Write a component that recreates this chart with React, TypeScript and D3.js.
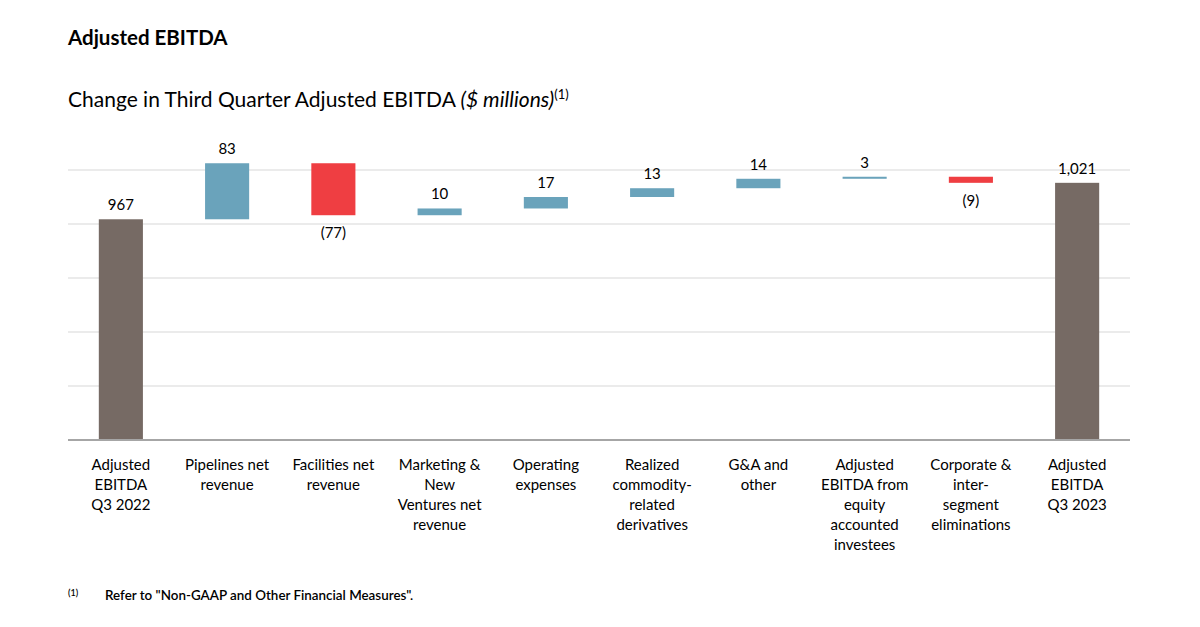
import React, { useEffect, useRef } from "react";
import * as d3 from "d3";

const categories = [
  ["Adjusted", "EBITDA", "Q3 2022"],
  ["Pipelines net", "revenue"],
  ["Facilities net", "revenue"],
  ["Marketing &", "New", "Ventures net", "revenue"],
  ["Operating", "expenses"],
  ["Realized", "commodity-", "related", "derivatives"],
  ["G&A and", "other"],
  ["Adjusted", "EBITDA from", "equity", "accounted", "investees"],
  ["Corporate &", "inter-", "segment", "eliminations"],
  ["Adjusted", "EBITDA", "Q3 2023"],
];
const values = [967, 83, -77, 10, 17, 13, 14, 3, -9, 1021];
const kinds = ["total", "delta", "delta", "delta", "delta", "delta", "delta", "delta", "delta", "total"];
const gridTicks = [640, 720, 800, 880, 960, 1040];

const COLORS = { total: "#766a64", up: "#6aa3bb", down: "#ef3e42" };
const FONT = "Lato, 'Open Sans', sans-serif";

const W = 1200;
const H = 627;

export default function App() {
  const ref = useRef<SVGSVGElement>(null);

  useEffect(() => {
    if (!ref.current) return;
    const svg = d3.select(ref.current);
    svg.selectAll("*").remove();

    const left = 68, right = 1130, top = 170, bottom = 440;

    // waterfall start / end
    let running = 0;
    const bars = values.map((v, i) => {
      let y0: number, y1: number;
      if (kinds[i] === "total") {
        y0 = gridTicks[0];
        y1 = v;
        running = v;
      } else {
        y0 = running;
        y1 = running + v;
        running = y1;
      }
      return { i, v, y0, y1, kind: kinds[i] };
    });

    const x = d3.scaleBand<number>()
      .domain(d3.range(values.length))
      .range([left, right])
      .paddingInner(0.585)
      .paddingOuter(0.29);

    const y = d3.scaleLinear()
      .domain([gridTicks[0], gridTicks[gridTicks.length - 1]])
      .range([bottom, top]);

    svg.append("text")
      .attr("x", 68).attr("y", 45)
      .attr("font-family", FONT).attr("font-size", 20.5).attr("font-weight", 700)
      .attr("fill", "#000")
      .text("Adjusted EBITDA");

    const sub = svg.append("text")
      .attr("x", 68).attr("y", 107)
      .attr("font-family", FONT).attr("font-size", 21)
      .attr("fill", "#000");
    sub.append("tspan").text("Change in Third Quarter Adjusted EBITDA ");
    sub.append("tspan").attr("font-style", "italic").text("($ millions)");
    sub.append("tspan").attr("font-size", 13).attr("dy", -8).text("(1)");

    // gridlines
    svg.append("g")
      .selectAll("line")
      .data(gridTicks.slice(1))
      .join("line")
      .attr("x1", left).attr("x2", right)
      .attr("y1", (d) => y(d)).attr("y2", (d) => y(d))
      .attr("stroke", "#e4e4e4").attr("stroke-width", 1.5);

    // bars
    svg.append("g")
      .selectAll("rect")
      .data(bars)
      .join("rect")
      .attr("x", (d) => x(d.i)!)
      .attr("width", x.bandwidth())
      .attr("y", (d) => y(Math.max(d.y0, d.y1)))
      .attr("height", (d) => Math.max(1.5, Math.abs(y(d.y0) - y(d.y1))))
      .attr("fill", (d) => d.kind === "total" ? COLORS.total : d.v >= 0 ? COLORS.up : COLORS.down);

    // baseline
    svg.append("line")
      .attr("x1", left).attr("x2", right)
      .attr("y1", bottom).attr("y2", bottom)
      .attr("stroke", "#a6a6a6").attr("stroke-width", 2);

    const fmt = d3.format(",");
    svg.append("g")
      .selectAll("text")
      .data(bars)
      .join("text")
      .attr("x", (d) => x(d.i)! + x.bandwidth() / 2)
      .attr("y", (d) => d.v >= 0 ? y(Math.max(d.y0, d.y1)) - 9 : y(Math.min(d.y0, d.y1)) + 23)
      .attr("text-anchor", "middle")
      .attr("font-family", FONT).attr("font-size", 15)
      .attr("fill", "#000")
      .text((d) => d.v < 0 ? `(${fmt(-d.v)})` : fmt(d.v));

    // category labels
    const cat = svg.append("g")
      .selectAll("text")
      .data(categories)
      .join("text")
      .attr("text-anchor", "middle")
      .attr("font-family", FONT).attr("font-size", 15)
      .attr("fill", "#000");
    cat.each(function (lines, i) {
      const t = d3.select(this);
      lines.forEach((ln, k) => {
        t.append("tspan")
          .attr("x", x(i)! + x.bandwidth() / 2)
          .attr("y", 470 + k * 20)
          .text(ln);
      });
    });

    // footnote
    svg.append("text")
      .attr("x", 68).attr("y", 596)
      .attr("font-family", FONT).attr("font-size", 9).attr("font-weight", 600)
      .text("(1)");
    svg.append("text")
      .attr("x", 105).attr("y", 600)
      .attr("font-family", FONT).attr("font-size", 13.4).attr("font-weight", 600)
      .text("Refer to \"Non-GAAP and Other Financial Measures\".");
  }, []);

  return (
    <svg
      ref={ref}
      width={W}
      height={H}
      style={{ position: "absolute", left: 0, top: 0, background: "#fff" }}
    />
  );
}
